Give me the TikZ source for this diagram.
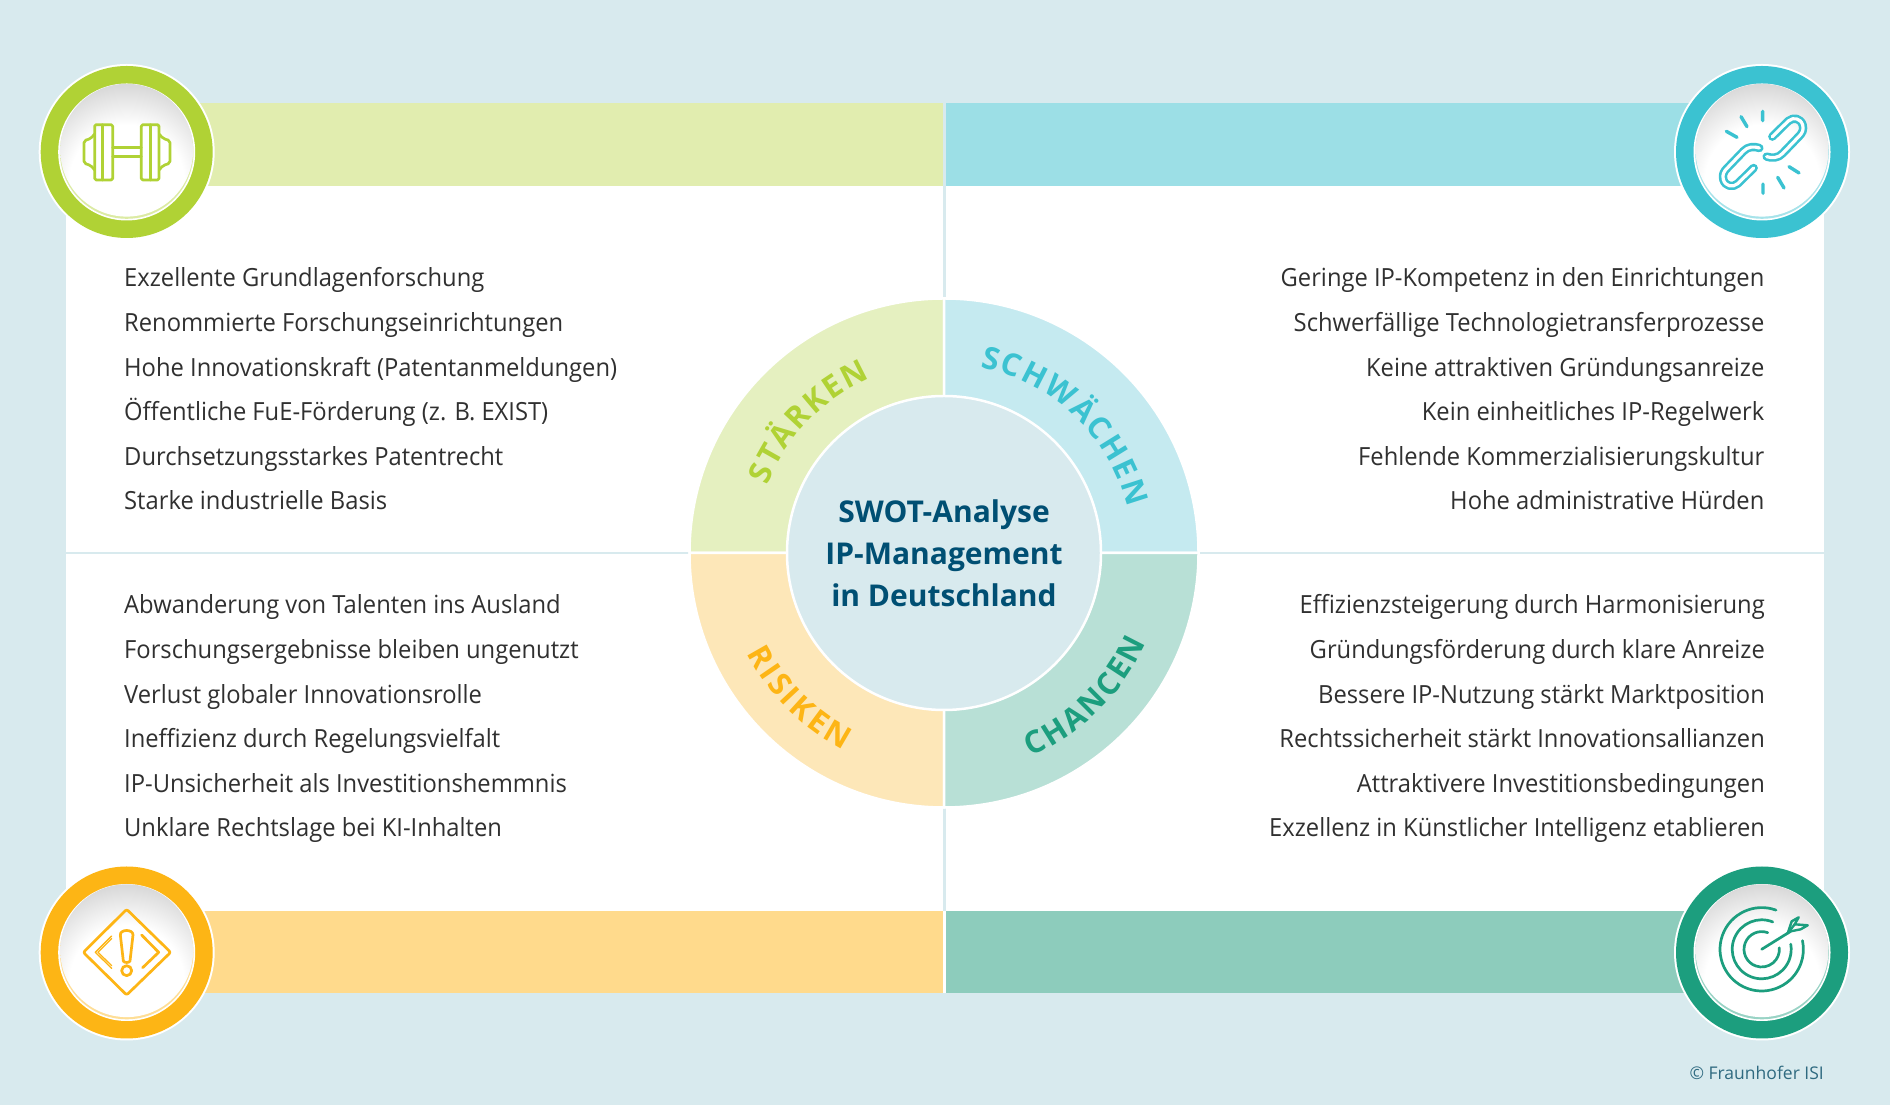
\documentclass[tikz,border=0pt]{standalone}
\usepackage{fontspec}
\setmainfont{Open Sans}
\newfontfamily\itemfont[FakeStretch=0.95]{Open Sans}
\usetikzlibrary{decorations.text}
\definecolor{bgc}{HTML}{D8EAEE}
\definecolor{bandS}{HTML}{E1EDAF}\definecolor{bandW}{HTML}{9CDFE6}
\definecolor{bandO}{HTML}{8DCCBC}\definecolor{bandT}{HTML}{FFDA8C}
\definecolor{segS}{HTML}{E5F0C0}\definecolor{segW}{HTML}{C5EAF0}
\definecolor{segO}{HTML}{B8E0D6}\definecolor{segT}{HTML}{FDE7B8}
\definecolor{ringS}{HTML}{B0D235}\definecolor{ringW}{HTML}{3BC2D1}
\definecolor{ringO}{HTML}{1C9E7E}\definecolor{ringT}{HTML}{FDB515}
\definecolor{navy}{HTML}{004F73}\definecolor{txt}{HTML}{303030}\definecolor{copyc}{HTML}{2F6A80}
\pgfdeclareradialshading{discshade}{\pgfpoint{0bp}{0bp}}{color(0bp)=(white);color(13bp)=(white);color(22bp)=(black!15);color(25bp)=(black!15);color(50bp)=(black!15)}
\tikzset{
  itemL/.style={anchor=base west,font=\itemfont\fontsize{25}{25}\selectfont,text=txt,inner sep=0pt},
  itemR/.style={anchor=base east,font=\itemfont\fontsize{25}{25}\selectfont,text=txt,inner sep=0pt},
  hub/.style={anchor=base,font=\fontsize{30}{30}\selectfont\bfseries,text=navy,inner sep=0pt},
  sect/.style={draw=white,line width=2.5pt},
  ico/.style={line width=2.7pt,line join=round,line cap=round},
}
\newcommand{\badge}[3]{%
  \fill[white] (#1,#2) circle[radius=88];
  \fill[#3] (#1,#2) circle[radius=86];
  \fill[white] (#1,#2) circle[radius=68.5];
  \fill[#3!45!white] (#1,#2) circle[radius=66.8];
  \begin{scope}
    \clip (#1,#2+1.8) circle[radius=66.4];
    \shade[shading=discshade] (#1,#2-30) circle[radius=110];
  \end{scope}
}
\newcommand{\arctext}[6]{%
  \path[postaction={decorate},decoration={text along path,text align={fit to path},
    text={|\fontsize{#5}{#5}\selectfont\bfseries\color{#4}|#6}}]
    ({944+#1*cos(#2)},{552+#1*sin(#2)}) arc[start angle=#2,end angle=#3,radius=#1];
}
\newcommand{\sector}[3]{%
  \filldraw[sect,fill=#3] (944,552) -- ({944+254.5*cos(#1)},{552+254.5*sin(#1)}) arc[start angle=#1,end angle=#2,radius=254.5] -- cycle;
}
\begin{document}
\begin{tikzpicture}[x=1pt,y=1pt]
\useasboundingbox (0,0) rectangle (1890,1105);
\fill[bgc] (0,0) rectangle (1890,1105);
\fill[white] (66,112) rectangle (1824,919);
\fill[bandS] (126,919) rectangle (943,1002);
\fill[bandW] (946,919) rectangle (1762,1002);
\fill[bandT] (126,112) rectangle (943,194);
\fill[bandO] (946,112) rectangle (1762,194);
\fill[bgc] (943.2,194) rectangle (945.8,919);
\fill[bgc] (66,550.8) rectangle (1824,553.2);
% wheel
\sector{90}{180}{segS}
\sector{0}{90}{segW}
\sector{180}{270}{segT}
\sector{270}{360}{segO}
\filldraw[fill=bgc,draw=white,line width=2.5pt] (944,552) circle[radius=157];
\arctext{189}{159}{113}{ringS}{31}{STÄRKEN}
\arctext{189}{79}{14}{ringW}{31}{SCHWÄCHEN}
\arctext{221}{-67}{-24}{ringO}{31}{CHANCEN}
\arctext{221}{207}{243}{ringT}{31}{RISIKEN}
\node[hub] (hub1) at (944,582) {SWOT-Analyse};
\node[hub] (hub2) at (944,540) {IP-Management};
\node[hub] (hub3) at (944,498) {in Deutschland};
% items
\node[itemL] (s1) at (124,818) {Exzellente Grundlagenforschung};
\node[itemL] (s2) at (124,773.4) {Renommierte Forschungseinrichtungen};
\node[itemL] (s3) at (124,728.8) {Hohe Innovationskraft (Patentanmeldungen)};
\node[itemL] (s4) at (124,684.2) {Öffentliche FuE-Förderung (z. B. EXIST)};
\node[itemL] (s5) at (124,639.6) {Durchsetzungsstarkes Patentrecht};
\node[itemL] (s6) at (124,595) {Starke industrielle Basis};
\node[itemR] (w1) at (1764.5,818) {Geringe IP-Kompetenz in den Einrichtungen};
\node[itemR] (w2) at (1764.5,773.4) {Schwerfällige Technologietransferprozesse};
\node[itemR] (w3) at (1764.5,728.8) {Keine attraktiven Gründungsanreize};
\node[itemR] (w4) at (1764.5,684.2) {Kein einheitliches IP-Regelwerk};
\node[itemR] (w5) at (1764.5,639.6) {Fehlende Kommerzialisierungskultur};
\node[itemR] (w6) at (1764.5,595) {Hohe administrative Hürden};
\node[itemL] (t1) at (124,491) {Abwanderung von Talenten ins Ausland};
\node[itemL] (t2) at (124,446.4) {Forschungsergebnisse bleiben ungenutzt};
\node[itemL] (t3) at (124,401.8) {Verlust globaler Innovationsrolle};
\node[itemL] (t4) at (124,357.2) {Ineffizienz durch Regelungsvielfalt};
\node[itemL] (t5) at (124,312.6) {IP-Unsicherheit als Investitionshemmnis};
\node[itemL] (t6) at (124,268) {Unklare Rechtslage bei KI-Inhalten};
\node[itemR] (o1) at (1765,491) {Effizienzsteigerung durch Harmonisierung};
\node[itemR] (o2) at (1765,446.4) {Gründungsförderung durch klare Anreize};
\node[itemR] (o3) at (1765,401.8) {Bessere IP-Nutzung stärkt Marktposition};
\node[itemR] (o4) at (1765,357.2) {Rechtssicherheit stärkt Innovationsallianzen};
\node[itemR] (o5) at (1765,312.6) {Attraktivere Investitionsbedingungen};
\node[itemR] (o6) at (1765,268) {Exzellenz in Künstlicher Intelligenz etablieren};
\node[anchor=base east,font=\fontsize{17.5}{17.5}\selectfont,text=copyc,inner sep=0pt] (cr) at (1824,25.5) {© Fraunhofer ISI};
% badges
\badge{126.7}{953}{ringS}
\badge{1762}{953}{ringW}
\badge{126.7}{152.5}{ringT}
\badge{1762}{152.5}{ringO}
% dumbbell
\begin{scope}[shift={(20,1055)},x=.33333pt,y=-.33333pt]
 \draw[ico,draw=ringS,rounded corners=1.5pt] (224,224) rectangle (278,390);
 \draw[ico,draw=ringS] (248,224) -- (248,390);
 \draw[ico,draw=ringS,rounded corners=1.5pt] (364,224) rectangle (417,390);
 \draw[ico,draw=ringS] (392,224) -- (392,390);
 \draw[ico,draw=ringS] (278,292) -- (364,292) (278,320) -- (364,320);
 \draw[ico,draw=ringS,rounded corners=2pt] (224,252) -- (212,266) -- (192,272) -- (192,340) -- (212,346) -- (224,360);
 \draw[ico,draw=ringS,rounded corners=2pt] (417,252) -- (430,266) -- (450,272) -- (450,340) -- (430,346) -- (417,360);
\end{scope}
% broken link
\begin{scope}[shift={(1650,1055)},x=.33333pt,y=-.33333pt]
 \foreach \p in {0,180}{
 \begin{scope}[rotate around={\p:(339,307)}]
  \foreach \w/\c in {8.4pt/ringW,3.2pt/white}{
   \draw[line width=\w,draw=\c,line cap=round,line join=round] (367,260) -- (415,213)
     .. controls (430,200) and (452,205) .. (458,225)
     .. controls (462,240) and (456,250) .. (448,258)
     -- (398,310) .. controls (385,325) and (365,325) .. (350,320);
  }
 \end{scope}}
 \draw[ico,draw=ringW,line width=3.4pt] (338,184) -- (338,212) (273,200) -- (291,230) (229,244) -- (261,262)
   (339,402) -- (339,430) (383,382) -- (402,414) (417,350) -- (447,369);
\end{scope}
% warning
\begin{scope}[shift={(20,250)},x=.33333pt,y=-.33333pt]
 \draw[ico,draw=ringT,rounded corners=2pt] (320,163) -- (452,292) -- (320,420) -- (190,292) -- cycle;
 \draw[ico,draw=ringT,line width=1.3pt] (275,243) -- (226,292) -- (275,340);
 \draw[ico,draw=ringT,line width=1.3pt] (275,251) -- (234,292) -- (275,332);
 \draw[ico,draw=ringT] (365,240) -- (416,292) -- (368,338);
 \draw[ico,draw=ringT] (301,240) .. controls (300,222) and (340,222) .. (339,240)
   -- (330,318) .. controls (328,324) and (312,324) .. (310,318) -- cycle;
 \draw[ico,draw=ringT] (320,347) circle[radius=15];
\end{scope}
% target
\begin{scope}[shift={(1761.7,155.7)}]
 \draw[ico,draw=ringO] (70:41.7) arc[start angle=70,end angle=372,radius=41.7];
 \draw[ico,draw=ringO] (68:29.5) arc[start angle=68,end angle=370,radius=29.5];
 \draw[ico,draw=ringO] (70:17.7) arc[start angle=70,end angle=365,radius=17.7];
 \draw[ico,draw=ringO] (0,0) -- (29,18);
 \draw[ico,draw=ringO,line width=2.4pt] (26,16) -- (30,28) -- (37,32) -- (33,25) -- (46,24) -- (39,20) -- (29,18);
 \draw[ico,draw=ringO,line width=2.4pt] (33,25) -- (26,16);
\end{scope}
\end{tikzpicture}
\end{document}
